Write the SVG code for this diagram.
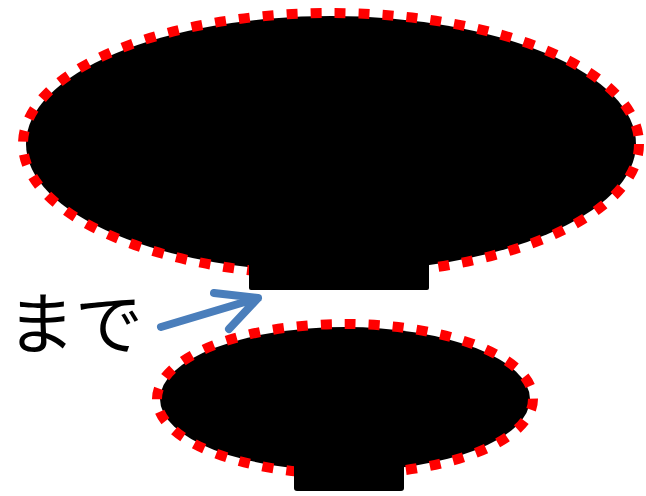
<svg xmlns="http://www.w3.org/2000/svg" width="646" height="496" viewBox="0 0 646 496">
<style>
.fill{fill:#000}
.dash{fill:none;stroke:#ff0000;stroke-width:10;stroke-dasharray:11 13}
.lbl{font-family:"Noto Sans CJK JP","Noto Sans",sans-serif;font-size:68px;fill:#000}
.arrow{fill:none;stroke:#4a7ebb;stroke-width:8;stroke-linecap:round;stroke-linejoin:round}
</style>
<rect width="646" height="496" fill="#fff"/>
<g id="big">
<ellipse class="fill" cx="331" cy="144" rx="305" ry="128"/>
<ellipse class="dash" cx="331" cy="144" rx="308" ry="131"/>
<rect class="fill" x="249" y="240" width="180" height="50" rx="2"/>
</g>
<g id="small">
<ellipse class="fill" cx="345" cy="399" rx="185" ry="72"/>
<ellipse class="dash" cx="345" cy="399" rx="188" ry="75"/>
<rect class="fill" x="294" y="440" width="110" height="51" rx="3"/>
</g>
<g id="label">
<text class="lbl" x="7" y="349">まで</text>
</g>
<g id="connectors">
<path class="arrow" d="M161 327 L258 298 M214 293 L258 298 L229 329"/>
</g>
</svg>
